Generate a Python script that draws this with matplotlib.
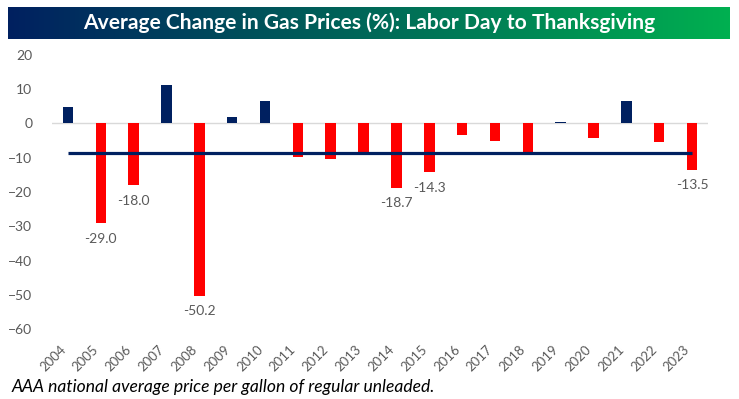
import matplotlib.pyplot as plt
import numpy as np
from matplotlib.colors import LinearSegmentedColormap

# Data (% change in gas prices, Labor Day -> Thanksgiving)
years = list(range(2004, 2024))
change = [4.7, -29.0, -18.0, 11.1, -50.2, 1.8, 6.4, -9.7, -10.3, -8.6,
          -18.7, -14.3, -3.4, -5.1, -9.3, 0.5, -4.4, 6.4, -5.4, -13.5]
labeled_years = [2005, 2006, 2008, 2014, 2015, 2023]
avg_change = -8.6

navy = '#002060'
red = '#FF0000'
grey = '#595959'
plt.rcParams['font.family'] = ['Lato', 'DejaVu Sans']

fig = plt.figure(figsize=(7.39, 3.99), dpi=100)

# gradient title banner
bax = fig.add_axes([8/739, 1 - 39/399, 722/739, 32/399])
cmap = LinearSegmentedColormap.from_list('banner', [navy, '#00B050'])
bax.imshow(np.linspace(0, 1, 256).reshape(1, -1), aspect='auto', cmap=cmap,
           extent=[0, 1, 0, 1])
bax.set_axis_off()
bax.text(0.5, 0.5, 'Average Change in Gas Prices (%): Labor Day to Thanksgiving',
         color='white', fontsize=15.1, fontweight='bold', ha='center', va='center',
         transform=bax.transAxes)

ax = fig.add_axes([51.6/739, 1 - 329.3/399, 656.8/739, 274.6/399])
x = np.arange(len(years))
vals = np.array(change)
colors = [navy if v >= 0 else red for v in vals]
ax.bar(x, vals, width=0.32, color=colors, zorder=2)
ax.axhline(0, color='#D9D9D9', lw=1, zorder=1)
ax.hlines(avg_change, x[0], x[-1], color=navy, lw=2.3, zorder=3)

for i, (yr, v) in enumerate(zip(years, vals)):
    if yr in labeled_years:
        ax.annotate('%.1f' % v, (i, v), xytext=(0, -7), textcoords='offset points',
                    ha='center', va='top', fontsize=10, color=grey)

ax.set_xlim(-0.5, len(years) - 0.5)
ax.set_ylim(-60, 20)
ax.set_yticks(np.arange(-60, 21, 10))
ax.set_xticks(x)
ax.set_xticklabels([str(y) for y in years], rotation=45, ha='right', va='top')
ax.tick_params(axis='x', length=0, pad=10, labelsize=9.5, labelcolor=grey)
ax.tick_params(axis='y', length=0, pad=14, labelsize=10, labelcolor=grey)
for s in ax.spines.values():
    s.set_visible(False)

fig.text(12/739, 1 - 387/399, 'AAA national average price per gallon of regular unleaded.',
         fontsize=12.6, style='italic', color='black', ha='left', va='center')

fig.savefig('out.png', dpi=100)
